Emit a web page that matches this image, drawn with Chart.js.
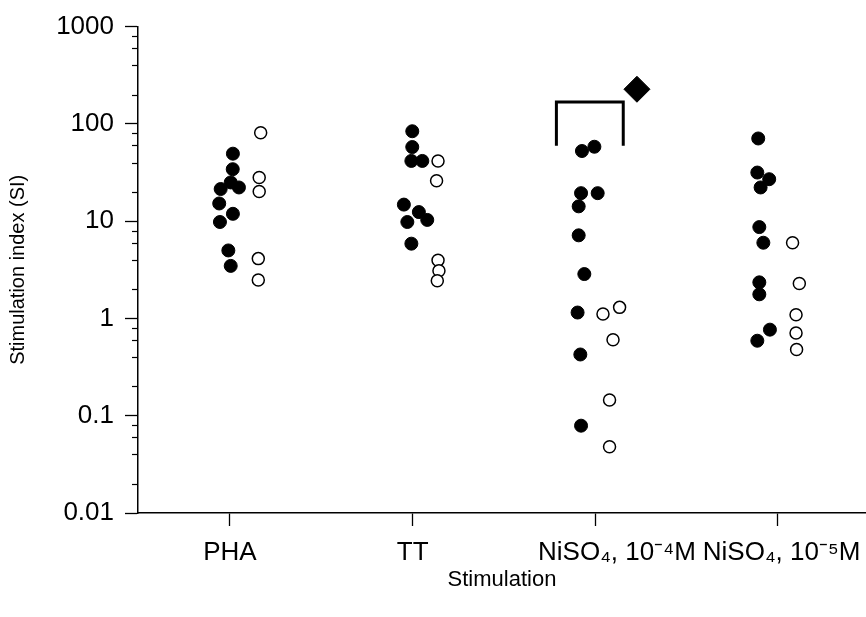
<!DOCTYPE html>
<html>
<head>
<meta charset="utf-8">
<script src="https://cdn.jsdelivr.net/npm/chart.js@4.4.1/dist/chart.umd.min.js"></script>
<style>
  html, body { margin: 0; padding: 0; background: #fff; }
  #wrap { width: 866px; height: 617px; position: relative; }
</style>
</head>
<body>
<div id="wrap"><canvas id="c" width="866" height="617"></canvas></div>
<script>
// ---- data ----
const categories = ['PHA', 'TT', '      NiSO\u2084, 10\u207B\u2074M', ' NiSO\u2084, 10\u207B\u2075M'];
const yTickValues = [0.01, 0.1, 1, 10, 100, 1000];
const yTickLabels = ['0.01', '0.1', '1', '10', '100', '1000'];
const yMinorMultipliers = [2, 4, 6, 8];

// filled circles (SI values) and their horizontal jitter within the category
const phaFilled  = [49.4, 34.2, 25, 22.2, 21.4, 15.2, 11.9, 9.8, 5.0, 3.47];
const phaFilledJ = [0.016, 0.015, 0.004, 0.049, -0.051, -0.059, 0.016, -0.055, -0.009, 0.004];
const phaOpen    = [81, 28.1, 20.2, 4.12, 2.48];
const phaOpenJ   = [0.168, 0.160, 0.160, 0.155, 0.155];

const ttFilled   = [84, 57.8, 41.6, 41.6, 14.8, 12.4, 9.8, 10.3, 5.87];
const ttFilledJ  = [-0.002, -0.002, -0.007, 0.053, -0.048, 0.034, -0.029, 0.080, -0.007];
const ttOpen     = [41.6, 26, 3.97, 3.09, 2.44];
const ttOpenJ    = [0.139, 0.131, 0.139, 0.144, 0.135];

const ni4Filled  = [52.6, 58.2, 19.4, 19.4, 14.2, 7.15, 2.86, 1.15, 0.426, 0.079];
const ni4FilledJ = [-0.073, -0.005, -0.078, 0.013, -0.091, -0.091, -0.060, -0.097, -0.082, -0.078];
const ni4Open    = [1.11, 1.30, 0.605, 0.145, 0.048];
const ni4OpenJ   = [0.042, 0.133, 0.097, 0.078, 0.078];

const ni5Filled  = [70.8, 31.6, 27, 22.2, 8.69, 6.0, 2.35, 1.77, 0.767, 0.59];
const ni5FilledJ = [-0.108, -0.113, -0.048, -0.095, -0.102, -0.080, -0.102, -0.102, -0.044, -0.113];
const ni5Open    = [6.0, 2.29, 1.09, 0.708, 0.48];
const ni5OpenJ   = [0.080, 0.117, 0.099, 0.099, 0.102];

// significance bracket over NiSO4 10^-4 M and the diamond marker
const bracketX = [2.787, 2.787, 3.153, 3.153];
const bracketY = [59.7, 167.6, 167.6, 59.7];
const markerX = [3.228];
const markerY = [227];

// ---- build datasets ----
const filledGroups = [[phaFilled, phaFilledJ], [ttFilled, ttFilledJ], [ni4Filled, ni4FilledJ], [ni5Filled, ni5FilledJ]];
const openGroups = [[phaOpen, phaOpenJ], [ttOpen, ttOpenJ], [ni4Open, ni4OpenJ], [ni5Open, ni5OpenJ]];
function toPoints(groups) {
  const pts = [];
  groups.forEach(([vals, jit], gi) => {
    vals.forEach((v, i) => pts.push({ x: gi + 1 + jit[i], y: v }));
  });
  return pts;
}

// y ticks: decades (labelled) + minor 2,4,6,8
const yTicks = [];
yTickValues.forEach((v, i) => {
  yTicks.push({ value: v, label: yTickLabels[i], major: true });
  if (i < yTickValues.length - 1) {
    yMinorMultipliers.forEach(m => yTicks.push({ value: v * m, label: '', major: false }));
  }
});

const minorTickPlugin = {
  id: 'minorTicks',
  afterDraw(chart) {
    const ys = chart.scales.y;
    const ctx = chart.ctx;
    const xAxis = chart.chartArea.left;
    ctx.save();
    ctx.strokeStyle = '#000';
    ctx.lineWidth = 1.2;
    yTicks.forEach(t => {
      if (t.major) return;
      const py = Math.round(ys.getPixelForValue(t.value)) + 0.5;
      ctx.beginPath();
      ctx.moveTo(xAxis - 6, py);
      ctx.lineTo(xAxis, py);
      ctx.stroke();
    });
    ctx.restore();
  }
};

const fontFam = "'Liberation Sans', Arial, Helvetica, sans-serif";

new Chart(document.getElementById('c'), {
  type: 'scatter',
  data: {
    datasets: [
      {
        label: 'bracket',
        data: bracketX.map((x, i) => ({ x, y: bracketY[i] })),
        showLine: true,
        borderColor: '#000',
        borderWidth: 3,
        pointRadius: 0,
        fill: false,
        tension: 0
      },
      {
        label: 'marker',
        data: markerX.map((x, i) => ({ x, y: markerY[i] })),
        pointStyle: 'rectRot',
        pointRadius: 13,
        backgroundColor: '#000',
        borderColor: '#000',
        borderWidth: 1
      },
      {
        label: 'filled',
        data: toPoints(filledGroups),
        pointStyle: 'circle',
        pointRadius: 6.5,
        backgroundColor: '#000',
        borderColor: '#000',
        borderWidth: 1
      },
      {
        label: 'open',
        data: toPoints(openGroups),
        pointStyle: 'circle',
        pointRadius: 6,
        backgroundColor: '#fff',
        borderColor: '#000',
        borderWidth: 1.5
      }
    ]
  },
  options: {
    responsive: false,
    animation: false,
    layout: { autoPadding: false, padding: { top: 24, right: 0, bottom: 0, left: 0 } },
    plugins: {
      legend: { display: false },
      tooltip: { enabled: false }
    },
    scales: {
      x: {
        type: 'linear',
        min: 0.4964,
        max: 4.482,
        afterBuildTicks: (scale) => { scale.ticks = categories.map((c, i) => ({ value: i + 1 })); },
        beforeFit: (scale) => {
          // let the last category label overhang the axis end, as in the reference
          scale._calculatePadding = function () { this.paddingLeft = 0; this.paddingRight = 0; };
        },
        afterFit: (scale) => { scale.height = 104; },
        ticks: {
          autoSkip: false,
          maxRotation: 0,
          padding: 11,
          color: '#000',
          font: { family: fontFam, size: 26 },
          callback: (v) => categories[Math.round(v) - 1] || ''
        },
        grid: { drawOnChartArea: false, drawTicks: true, tickLength: 13, tickColor: '#000', tickWidth: 1.3 },
        border: { display: true, color: '#000', width: 1.5 },
        title: {
          display: true,
          text: 'Stimulation',
          color: '#000',
          font: { family: fontFam, size: 22 },
          padding: { top: 0, bottom: 24 }
        }
      },
      y: {
        type: 'logarithmic',
        min: 0.01,
        max: 1000,
        afterBuildTicks: (scale) => { scale.ticks = yTicks.map(t => ({ value: t.value })); },
        afterFit: (scale) => { scale.width = 138; },
        ticks: {
          autoSkip: false,
          padding: 11,
          color: '#000',
          font: { family: fontFam, size: 26 },
          callback: (v, i) => yTicks[i] ? yTicks[i].label : ''
        },
        grid: {
          drawOnChartArea: false,
          drawTicks: true,
          tickLength: 13,
          tickWidth: 1.3,
          tickColor: (c) => (c.index !== undefined && yTicks[c.index] && yTicks[c.index].major) ? '#000' : 'rgba(0,0,0,0)'
        },
        border: { display: true, color: '#000', width: 1.5 },
        title: {
          display: true,
          text: 'Stimulation index (SI)',
          color: '#000',
          font: { family: fontFam, size: 20 },
          padding: { top: 6, bottom: 0 }
        }
      }
    }
  },
  plugins: [minorTickPlugin]
});
</script>
</body>
</html>
